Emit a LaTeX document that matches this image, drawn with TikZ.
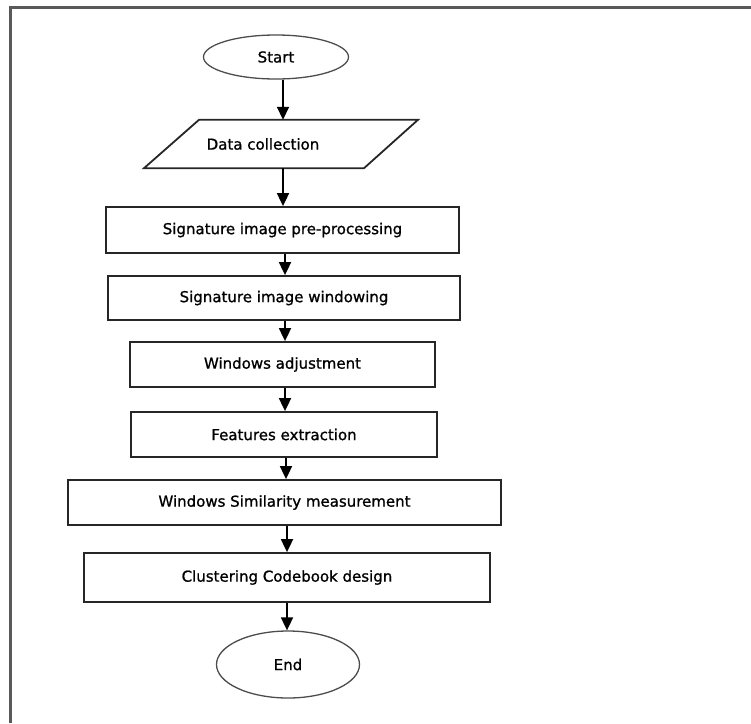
\documentclass[tikz,border=0pt]{standalone}
\usepackage{fontspec}
\setmainfont[FakeBold=1]{DejaVu Sans}
\usetikzlibrary{shapes.geometric,arrows.meta}

\begin{document}
\begin{tikzpicture}[x=1pt, y=-1pt, every node/.style={font=\fontsize{15}{17}\selectfont},
  proc/.style={draw=black!85, line width=1.8pt, rectangle, inner sep=0pt},
  term/.style={draw=black!70, line width=1.3pt, ellipse, inner sep=0pt},
  io/.style={rectangle, inner sep=0pt},
  arr/.style={line width=1.8pt, -{Triangle[width=12pt,length=13pt]}}]

  \useasboundingbox (0,0) rectangle (751,723);

  % Frame
  \draw[line width=2.4pt, black!65] (751,7.5) -- (10.5,7.5) -- (10.5,723);

  % Nodes
  \node[term, minimum width=145pt, minimum height=44pt] (start) at (276,57) {Start};
  \node[io, minimum height=48pt] (data) at (263,144) {Data collection};
  \node[proc, minimum width=353pt, minimum height=46pt] (pre) at (282.5,230) {Signature image pre-processing};
  \node[proc, minimum width=352pt, minimum height=44pt] (win) at (284,298) {Signature image windowing};
  \node[proc, minimum width=305pt, minimum height=45pt] (adj) at (282.5,364.5) {Windows adjustment};
  \node[proc, minimum width=306pt, minimum height=45pt] (feat) at (284,434.5) {Features extraction};
  \node[proc, minimum width=433pt, minimum height=45pt] (sim) at (284.5,502.5) {Windows Similarity measurement};
  \node[proc, minimum width=406pt, minimum height=49pt] (code) at (287,577.5) {Clustering Codebook design};
  \node[term, minimum width=143pt, minimum height=67pt] (end) at (288,664.5) {End};

  % Input shape round the data node
  \draw[draw=black!85, line width=1.8pt, line join=miter]
    ([shift={(-64,0)}]data.north) -- ([shift={(155,0)}]data.north)
    -- ([shift={(101,0)}]data.south) -- ([shift={(-119,0)}]data.south) -- cycle;

  % Arrows
  \foreach \a/\b/\x in {start/data/283, data/pre/283, pre/win/285, win/adj/285,
                        adj/feat/285, feat/sim/286, sim/code/287, code/end/287}
    \draw[arr] (\a.south -| \x,0) -- (\b.north -| \x,0);
\end{tikzpicture}
\end{document}
